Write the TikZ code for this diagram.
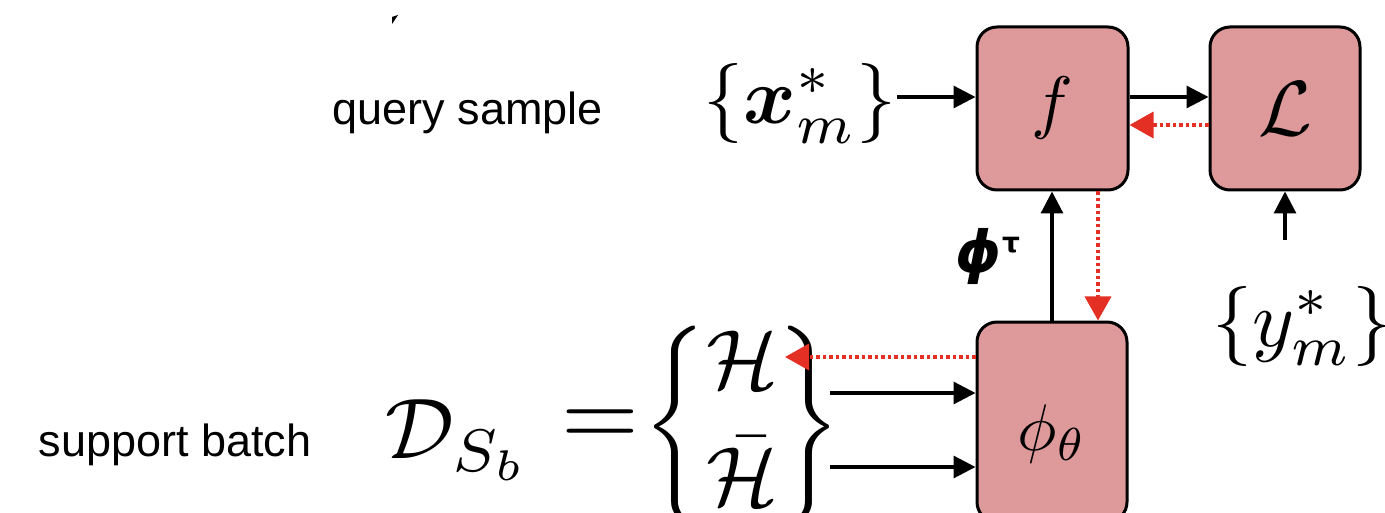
\documentclass[tikz,border=0pt]{standalone}
\usepackage{graphicx}
\usepackage{amsmath,bm}
\usepackage{fontspec}
\newfontfamily\arialf{Liberation Sans}
\newfontfamily\djvf{DejaVu Sans}
\usetikzlibrary{arrows.meta}
\definecolor{boxfill}{RGB}{222,154,154}
\definecolor{redarr}{RGB}{228,48,36}
\begin{document}
\begin{tikzpicture}[x=1pt,y=-1pt,
  blk/.style={rounded corners=20pt, draw=black, line width=3pt, fill=boxfill, inner sep=0},
  arr/.style={line width=3.2pt, -{Triangle[length=22pt,width=22pt]}},
  rarr/.style={redarr, line width=3.5pt, dash pattern=on 3.5pt off 3pt, -{Triangle[length=24pt,width=26pt]}},
  lbl/.style={font=\arialf\fontsize{45}{54}\selectfont, inner sep=0},
  mth/.style={inner sep=0}]
\useasboundingbox (0,0) rectangle (1385,513);
\clip (0,0) rectangle (1385,513);
% stray mark
\fill (392,17) -- (398,15) -- (392,24) -- cycle;
% boxes
\node[blk, minimum width=151pt, minimum height=163pt] (f) at (1052.5,108.5) {\scalebox{7}{$f$}};
\node[blk, minimum width=150pt, minimum height=163pt] (L) at (1285,108.5) {\scalebox{7.8}{$\mathcal{L}$}};
\node[blk, minimum width=150pt, minimum height=200pt] (phi) at (1052,422) {};
\node[mth] (phit) at (1052,434) {\scalebox{6.6}{$\phi_\theta$}};
% labels
\node[lbl] (qs) at (468,113) {query sample};
\node[lbl] (sb) at (175,445) {support batch};
\node[mth, anchor=east] (xm) at (897,104) {\scalebox{8}{$\{\bm{x}_m^*\}$}};
\node[mth] (ym) at (1302,326) {\scalebox{8}{$\{y_m^*\}$}};
\node[mth] (pt) at (988,256) {\djvf\fontsize{58}{60}\selectfont\bfseries\itshape ϕ\raisebox{20pt}{\upshape\fontsize{28}{30}\selectfont τ}};
\node[mth] (D) at (458,440) {\scalebox{8.6}{$\mathcal{D}_{S_b}$}};
\node[mth] (eq) at (600,428) {\scalebox{10}{$=$}};
\node[mth] (set) at (742,427) {\scalebox{8.4}{$\left\{\begin{matrix}\mathcal{H}\\[2pt] \bar{\mathcal{H}}\end{matrix}\right\}$}};
% connectors
\coordinate (ys) at (1285,240);
\coordinate (hr) at (785,357);
\coordinate (h1) at (830,393);
\coordinate (h2) at (830,467);
\draw[arr] (xm.east |- 0,97) -- (f.west |- 0,97);
\draw[arr] (f.east |- 0,97) -- (L.west |- 0,97);
\draw[rarr] (L.west |- 0,125) -- (f.east |- 0,125);
\draw[arr] (phi.north -| 1052,0) -- (f.south -| 1052,0);
\draw[rarr] (f.south -| 1098,0) -- (phi.north -| 1098,0);
\draw[arr] (ys) -- (L.south);
\draw[rarr] (phi.west |- hr) -- (hr);
\draw[arr] (h1) -- (phi.west |- h1);
\draw[arr] (h2) -- (phi.west |- h2);
\end{tikzpicture}
\end{document}
